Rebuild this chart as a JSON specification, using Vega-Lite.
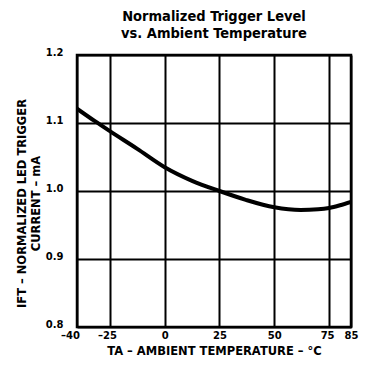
{
  "$schema": "https://vega.github.io/schema/vega-lite/v6.json",
  "width": 274,
  "height": 272,
  "autosize": {"type": "none"},
  "padding": {"left": 77, "top": 55, "right": 14, "bottom": 42},
  "background": "white",
  "config": {
    "font": "DejaVu Sans",
    "view": {"stroke": "black", "strokeWidth": 2.5},
    "axis": {
      "grid": true,
      "gridColor": "black",
      "gridWidth": 2,
      "gridOpacity": 1,
      "domain": false,
      "ticks": false,
      "labelFont": "DejaVu Sans",
      "labelFontWeight": "bold",
      "labelFontSize": 10,
      "labelColor": "black",
      "titleFont": "DejaVu Sans",
      "titleFontWeight": "bold",
      "titleFontSize": 11.5,
      "titleColor": "black"
    }
  },
  "title": {
    "text": ["Normalized Trigger Level", "vs. Ambient Temperature"],
    "font": "DejaVu Sans Condensed",
    "fontWeight": "bold",
    "fontSize": 14.5,
    "lineHeight": 17,
    "color": "black",
    "anchor": "middle",
    "offset": 6
  },
  "data": {
    "values": [
      {"t": -40, "i": 1.121},
      {"t": -32, "i": 1.103},
      {"t": -25, "i": 1.088},
      {"t": -12.5, "i": 1.062},
      {"t": 0, "i": 1.035},
      {"t": 12.5, "i": 1.015},
      {"t": 25, "i": 1.0},
      {"t": 37, "i": 0.987},
      {"t": 50, "i": 0.976},
      {"t": 62, "i": 0.972},
      {"t": 70, "i": 0.973},
      {"t": 75, "i": 0.975},
      {"t": 80, "i": 0.979},
      {"t": 85, "i": 0.984}
    ]
  },
  "mark": {"type": "line", "color": "black", "strokeWidth": 4, "interpolate": "monotone", "clip": true},
  "encoding": {
    "x": {
      "field": "t",
      "type": "quantitative",
      "scale": {"domain": [-40, 85], "nice": false, "zero": false},
      "axis": {
        "values": [-40, -25, 0, 25, 50, 75, 85],
        "labelExpr": "datum.value < 0 ? '–' + abs(datum.value) : datum.label",
        "labelOverlap": false,
        "labelFlush": false,
        "labelOffset": {"condition": [{"test": "datum.value == 75", "value": -2}, {"test": "datum.value == -40", "value": -7}, {"test": "datum.value == -25", "value": -3}], "value": 0},
        "labelPadding": 3,
        "title": "TA – AMBIENT TEMPERATURE – °C",
        "titlePadding": 5
      }
    },
    "y": {
      "field": "i",
      "type": "quantitative",
      "scale": {"domain": [0.8, 1.2], "nice": false, "zero": false},
      "axis": {
        "values": [0.8, 0.9, 1.0, 1.1, 1.2],
        "format": ".1f",
        "labelPadding": 14,
        "labelBaseline": "alphabetic",
        "labelFlush": false,
        "title": ["IFT – NORMALIZED LED TRIGGER", "CURRENT – mA"],
        "titlePadding": 4,
        "titleY": 148
      }
    }
  }
}
